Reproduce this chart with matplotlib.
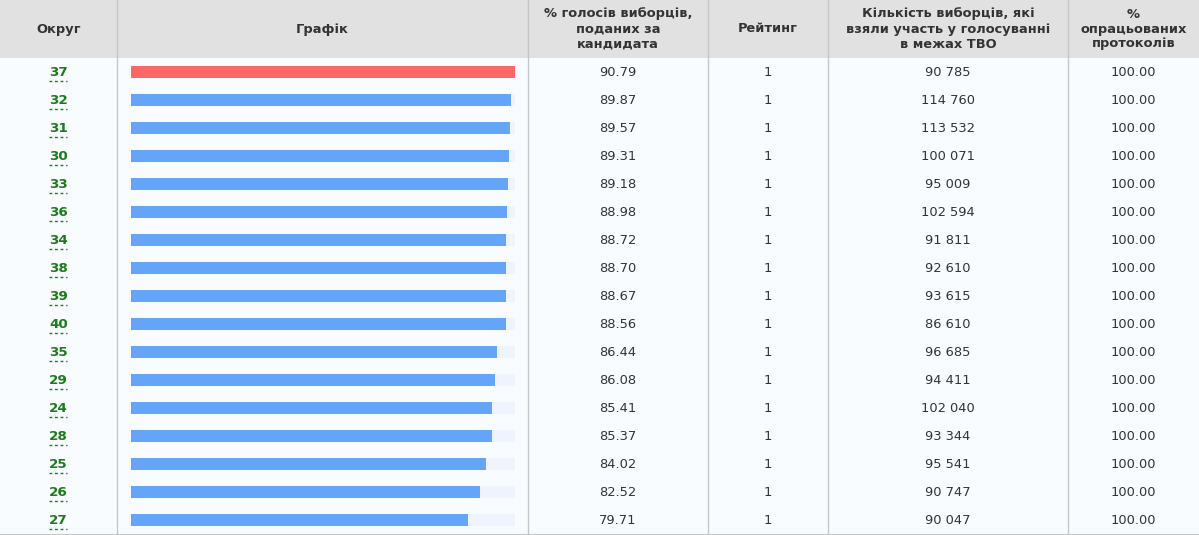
import matplotlib
matplotlib.use("Agg")
import matplotlib.pyplot as plt
from matplotlib.patches import Rectangle

# ---- data ----
districts = ["37", "32", "31", "30", "33", "36", "34", "38", "39", "40", "35", "29", "24", "28", "25", "26", "27"]
vote_pct = [90.79, 89.87, 89.57, 89.31, 89.18, 88.98, 88.72, 88.70, 88.67, 88.56,
            86.44, 86.08, 85.41, 85.37, 84.02, 82.52, 79.71]
rating = [1] * 17
voters = [90785, 114760, 113532, 100071, 95009, 102594, 91811, 92610, 93615, 86610,
          96685, 94411, 102040, 93344, 95541, 90747, 90047]
processed = [100.00] * 17
headers = ["Округ", "Графік", "% голосів виборців,\nподаних за\nкандидата", "Рейтинг",
           "Кількість виборців, які\nвзяли участь у голосуванні\nв межах ТВО", "%\nопрацьованих\nпротоколів"]

W, H = 1199, 535
fig = plt.figure(figsize=(W / 100, H / 100), dpi=100)
fig.patch.set_facecolor("#f9fcfe")
ax = fig.add_axes([0, 0, 1, 1])
ax.set_xlim(0, W)
ax.set_ylim(H, 0)
ax.axis("off")

header_h = 58
row_h = 28
n = len(districts)
col_edges = [0, 117, 528, 708, 828, 1068, 1199]
centers = [(col_edges[i] + col_edges[i + 1]) / 2 for i in range(6)]
bottom = header_h + n * row_h

ax.add_patch(Rectangle((0, 0), W, header_h, facecolor="#e1e1e1", edgecolor="none", zorder=0))
ax.add_patch(Rectangle((0, header_h), W, bottom - header_h, facecolor="#f9fcfe", edgecolor="none", zorder=0))
for x in col_edges[1:-1]:
    ax.plot([x, x], [0, bottom], color="#c6c6c6", lw=1, zorder=1)
ax.plot([0, W], [bottom + 0.5, bottom + 0.5], color="#c6c6c6", lw=1.5, zorder=1)

fs = 9.4
for c, h in zip(centers, headers):
    ax.text(c, header_h / 2, h, ha="center", va="center", fontsize=fs, fontweight="bold",
            color="#333333", linespacing=1.2, family="DejaVu Sans")

for i in range(n):
    y = header_h + row_h * i + row_h / 2
    ax.text(centers[0], y, districts[i], ha="center", va="center", fontsize=fs + 0.3,
            fontweight="bold", color="#1d7a1d")
    ax.plot([centers[0] - 9.5, centers[0] + 8.5], [y + 8.5, y + 8.5], color="#1d7a1d", lw=1,
            linestyle=(0, (2, 2)))
    ax.text(centers[2], y, f"{vote_pct[i]:.2f}", ha="center", va="center", fontsize=fs, color="#333333")
    ax.text(centers[3], y, f"{rating[i]}", ha="center", va="center", fontsize=fs, color="#333333")
    ax.text(centers[4], y, f"{voters[i]:,}".replace(",", " "), ha="center", va="center",
            fontsize=fs, color="#333333")
    ax.text(centers[5], y, f"{processed[i]:.2f}", ha="center", va="center", fontsize=fs, color="#333333")

# ---- bar chart column ----
bx0, bx1 = 131, 515
bax = fig.add_axes([bx0 / W, (H - bottom) / H, (bx1 - bx0) / W, (bottom - header_h) / H])
bax.set_xlim(0, max(vote_pct))
bax.set_ylim(n - 0.5, -0.5)
bax.axis("off")
bax.patch.set_alpha(0)
ypos = list(range(n))
bar_h = 12 / row_h
bax.barh(ypos, [max(vote_pct)] * n, height=bar_h, color="#eef3fd", left=0)
colors = ["#ff6666"] + ["#64a5fa"] * (n - 1)
bax.barh(ypos, vote_pct, height=bar_h, color=colors, left=0)

fig.savefig("out.png", dpi=100, facecolor=fig.get_facecolor())
